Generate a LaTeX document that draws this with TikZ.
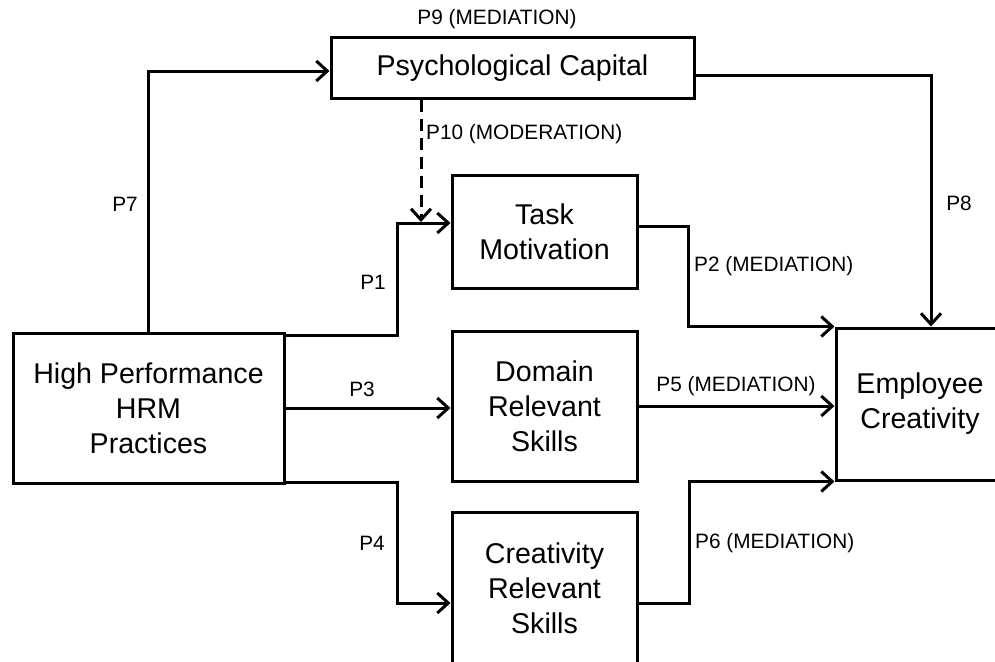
\documentclass[tikz,border=0pt]{standalone}
\usepackage{fontspec}
\setmainfont{Liberation Sans}
\usetikzlibrary{arrows.meta}
\begin{document}
\begin{tikzpicture}[x=1pt,y=-1pt,
  box/.style={draw,line width=3pt,rectangle,inner sep=0pt,align=center,
    font=\fontsize{28.6}{35}\selectfont},
  lbl/.style={font=\fontsize{20.8}{24}\selectfont,inner sep=0pt},
  arr/.style={line width=3pt,-{Straight Barb[length=11pt,width=20pt,line width=3pt]}},
  ]
\clip (0,0) rectangle (995,661);
\fill[white] (0,0) rectangle (995,661);
% boxes
\node[box,minimum width=363,minimum height=60] (psy) at (512.5,68) {Psychological Capital};
\node[box,minimum width=185,minimum height=113] (task) at (544.5,231.5) {Task\\Motivation};
\node[box,minimum width=185,minimum height=150] (dom) at (544.5,406) {Domain\\Relevant\\Skills};
\node[box,minimum width=185,minimum height=152] (cre) at (544.5,588) {Creativity\\Relevant\\Skills};
\node[box,minimum width=271,minimum height=150] (hrm) at (148.5,408) {High Performance\\HRM\\Practices};
\node[box,minimum width=168,minimum height=152] (emp) at (920,404) {Employee\\Creativity};
% connectors
\draw[arr] (hrm.north) |- ([yshift=-3]psy.west);
\draw[arr] ([yshift=-7]psy.east) -| ([xshift=11]emp.north);
\coordinate (modend) at (421,222);
\draw[arr,dashed,dash pattern=on 12pt off 7pt] ([xshift=-91.5]psy.south) -- (modend);
\draw[arr] ([yshift=-4]hrm.north east) -- ++(112,0) |- ([yshift=8.5]task.west);
\draw[arr] ([yshift=5.5]task.east) -- ++(50,0) |- (emp.north west);
\draw[arr] (hrm.east) -- (hrm.east -| dom.west);
\draw[arr] (dom.east) -- (dom.east -| emp.west);
\draw[arr] ([yshift=2]hrm.south east) -- ++(112,0) |- ([yshift=-15]cre.west);
\draw[arr] ([yshift=-15]cre.east) -- ++(51,0) |- (emp.south west);
% labels
\node[lbl] (l9) at (497,19) {P9 (MEDIATION)};
\node[lbl] (l7) at (125,204) {P7};
\node[lbl,anchor=west] (l10) at (426,134) {P10 (MODERATION)};
\node[lbl] (l1) at (373,282) {P1};
\node[lbl] (l8) at (959,203) {P8};
\node[lbl,anchor=west] (l2) at (694,266) {P2 (MEDIATION)};
\node[lbl] (l3) at (362,389) {P3};
\node[lbl] (l5) at (736,386) {P5 (MEDIATION)};
\node[lbl] (l4) at (372,543) {P4};
\node[lbl,anchor=west] (l6) at (695,543) {P6 (MEDIATION)};
\end{tikzpicture}
\end{document}
